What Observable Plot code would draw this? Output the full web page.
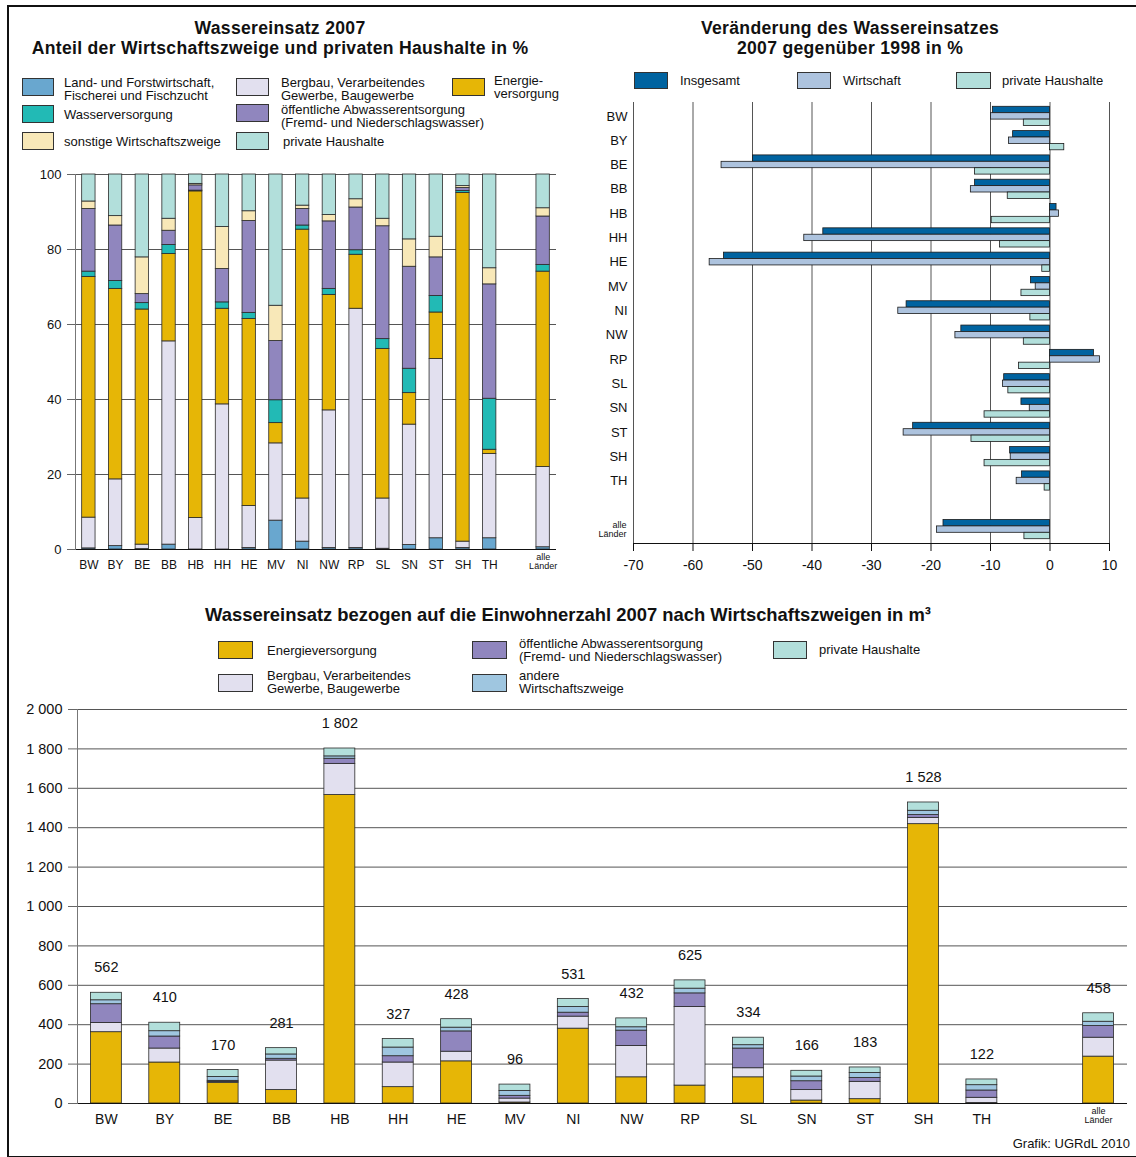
<!DOCTYPE html>
<html><head><meta charset="utf-8">
<script src="https://cdn.jsdelivr.net/npm/d3@7"></script>
<script src="https://cdn.jsdelivr.net/npm/@observablehq/plot@0.6"></script>
<style>
body{margin:0;background:#fff;font-family:"Liberation Sans",Arial,sans-serif;color:#111}
#root{position:relative;width:1136px;height:1157px;overflow:hidden;background:#fff}
.abs{position:absolute}
.t{position:absolute;font-weight:bold;font-size:17.6px;letter-spacing:0.3px;text-align:center;line-height:19.5px;white-space:nowrap}
.sw{position:absolute;border:1px solid #333;box-sizing:border-box}
.lt{position:absolute;font-size:13px;line-height:13px;white-space:nowrap}
#frame{position:absolute;left:7px;top:5px;width:1140px;height:1149px;border-left:2px solid #111;border-top:2px solid #111;border-bottom:2px solid #111}
</style></head><body><div id="root">
<div id="frame"></div>
<div class="t" style="left:20px;width:520px;top:19px">Wassereinsatz 2007<br>Anteil der Wirtschaftszweige und privaten Haushalte in %</div>
<div class="t" style="left:600px;width:500px;top:19px">Veränderung des Wassereinsatzes<br>2007 gegenüber 1998 in %</div>
<div class="t" style="left:100px;width:936px;top:605px;font-size:18.4px;letter-spacing:0">Wassereinsatz bezogen auf die Einwohnerzahl 2007 nach Wirtschaftszweigen in m³</div>

<div class="sw" style="left:22px;top:78px;width:32px;height:18px;background:#69a7cf"></div>
<div class="lt" style="left:64px;top:76px">Land- und Forstwirtschaft,<br>Fischerei und Fischzucht</div>
<div class="sw" style="left:22px;top:105px;width:32px;height:18px;background:#22bab5"></div>
<div class="lt" style="left:64px;top:108px">Wasserversorgung</div>
<div class="sw" style="left:22px;top:132px;width:32px;height:18px;background:#f8e8b8"></div>
<div class="lt" style="left:64px;top:135px">sonstige Wirtschaftszweige</div>
<div class="sw" style="left:236px;top:78px;width:33px;height:18px;background:#e2e0ef"></div>
<div class="lt" style="left:281px;top:76px">Bergbau, Verarbeitendes<br>Gewerbe, Baugewerbe</div>
<div class="sw" style="left:236px;top:104px;width:33px;height:18px;background:#9086be"></div>
<div class="lt" style="left:281px;top:103px">öffentliche Abwasserentsorgung<br>(Fremd- und Niederschlagswasser)</div>
<div class="sw" style="left:236px;top:132px;width:33px;height:18px;background:#b2dfdb"></div>
<div class="lt" style="left:283px;top:135px">private Haushalte</div>
<div class="sw" style="left:452px;top:78px;width:33px;height:18px;background:#e6b606"></div>
<div class="lt" style="left:494px;top:74px">Energie-<br>versorgung</div>

<div class="sw" style="left:634px;top:72px;width:34px;height:17px;background:#0063a0"></div>
<div class="lt" style="left:680px;top:74px">Insgesamt</div>
<div class="sw" style="left:797px;top:72px;width:34px;height:17px;background:#adc3de"></div>
<div class="lt" style="left:843px;top:74px">Wirtschaft</div>
<div class="sw" style="left:956px;top:72px;width:35px;height:17px;background:#b2dfdb"></div>
<div class="lt" style="left:1002px;top:74px">private Haushalte</div>

<div class="sw" style="left:218px;top:641px;width:35px;height:18px;background:#e6b606"></div>
<div class="lt" style="left:267px;top:644px">Energieversorgung</div>
<div class="sw" style="left:472px;top:641px;width:35px;height:18px;background:#9086be"></div>
<div class="lt" style="left:519px;top:637px">öffentliche Abwasserentsorgung<br>(Fremd- und Niederschlagswasser)</div>
<div class="sw" style="left:773px;top:641px;width:34px;height:18px;background:#b2dfdb"></div>
<div class="lt" style="left:819px;top:643px">private Haushalte</div>
<div class="sw" style="left:218px;top:674px;width:35px;height:18px;background:#e2e0ef"></div>
<div class="lt" style="left:267px;top:669px">Bergbau, Verarbeitendes<br>Gewerbe, Baugewerbe</div>
<div class="sw" style="left:472px;top:674px;width:35px;height:18px;background:#9fc6e0"></div>
<div class="lt" style="left:519px;top:669px">andere<br>Wirtschaftszweige</div>

<div class="lt" style="right:6px;top:1137px;line-height:14px">Grafik: UGRdL 2010</div>

<div id="c1" class="abs" style="left:0;top:160px"></div>
<div id="c2" class="abs" style="left:590px;top:95px"></div>
<div id="c3" class="abs" style="left:0;top:690px"></div>
</div>
<script>
// ---- categories ----
const states = ["BW","BY","BE","BB","HB","HH","HE","MV","NI","NW","RP","SL","SN","ST","SH","TH","alle"];
const slots = ["BW","BY","BE","BB","HB","HH","HE","MV","NI","NW","RP","SL","SN","ST","SH","TH","gap","alle"];
const landLabels = states.slice(0, 16);
const alleLabel = "alle\nLänder";

// ---- chart 1: Anteil in % (2007) ----
const shareLand     = [0.3,0.9,0.1,1.3,0,0,0.4,7.7,2.1,0.4,0.4,0.2,1.2,3.0,0.4,3.0,0.6];
const shareBergbau  = [8.2,17.8,1.2,54.2,8.4,38.7,11.2,20.6,11.5,36.7,63.8,13.4,32.1,47.8,1.7,22.5,21.4];
const shareEnergie  = [64.2,50.8,62.7,23.3,87.1,25.5,49.9,5.4,71.7,30.8,14.4,39.9,8.4,12.4,93.0,1.1,52.1];
const shareWasser   = [1.4,2.1,1.7,2.4,0.2,1.7,1.6,6.1,1.1,1.6,1.2,2.6,6.5,4.4,0.5,13.6,1.8];
const shareAbwasser = [16.7,14.8,2.4,3.8,1.4,8.9,24.5,15.8,4.4,18.0,11.4,30.1,27.2,10.3,0.8,30.5,12.9];
const shareSonstige = [2.0,2.5,9.8,3.2,0.4,11.2,2.6,9.4,0.9,1.7,2.2,2.0,7.3,5.5,0.5,4.3,2.2];
const sharePrivat   = [7.2,11.1,22.1,11.8,2.5,14.0,9.8,35.0,8.3,10.8,6.6,11.8,17.3,16.6,3.1,25.0,9.0];
const shareKeys   = ["land","bergbau","energie","wasser","abwasser","sonstige","privat"];
const shareColors = ["#69a7cf","#e2e0ef","#e6b606","#22bab5","#9086be","#f8e8b8","#b2dfdb"];
const shareTicks  = [0,20,40,60,80,100];

// ---- chart 2: Veränderung 2007 gegenüber 1998 in % ----
const changeInsgesamt  = [-9.6,-6.2,-49.9,-12.6,1.1,-38.1,-54.8,-3.2,-24.1,-14.9,7.4,-7.7,-4.8,-23.0,-6.7,-4.7,-17.9];
const changeWirtschaft = [-9.9,-6.9,-55.2,-13.3,1.5,-41.3,-57.2,-2.4,-25.5,-15.9,8.4,-7.9,-3.4,-24.6,-6.6,-5.6,-19.0];
const changePrivat     = [-4.4,2.4,-12.6,-7.1,-9.8,-8.4,-1.3,-4.8,-3.3,-4.4,-5.2,-7.0,-11.0,-13.2,-11.0,-0.9,-4.3];
const changeTicks = [-70,-60,-50,-40,-30,-20,-10,0,10];

// ---- chart 3: m³ je Einwohner 2007 ----
const pcEnergie  = [362,208,105,68,1566,83,214,5,380,133,91,133,15,22,1418,3,238];
const pcBergbau  = [47,71,5,150,158,125,49,20,61,159,399,46,53,88,32,26,96];
const pcAbwasser = [95,61,5,9,26,32,103,14,20,78,69,100,45,20,14,37,59];
const pcAndere   = [20,27,20,22,12,44,19,25,29,17,24,17,24,25,22,27,22];
const pcPrivat   = [38,43,35,32,40,43,43,32,41,45,42,38,29,28,42,29,43];
const pcTotals   = [562,410,170,281,1802,327,428,96,531,432,625,334,166,183,1528,122,458];
const pcKeys   = ["energie","bergbau","abwasser","andere","privat"];
const pcColors = ["#e6b606","#e2e0ef","#9086be","#9fc6e0","#b2dfdb"];
const pcTicks  = [0,200,400,600,800,1000,1200,1400,1600,1800,2000];

const font = "'Liberation Sans', Arial, sans-serif";
const tidy = (keys, arrays) => keys.flatMap((k, j) => states.map((s, i) => ({state: s, cat: k, value: arrays[j][i]})));
const fmt = d => d3.format(",")(d).replace(/,/g, " ");

// chart 1
const shareData = tidy(shareKeys, [shareLand, shareBergbau, shareEnergie, shareWasser, shareAbwasser, shareSonstige, sharePrivat]);
const p1 = Plot.plot({
  width: 580, height: 420, marginLeft: 75, marginRight: 24, marginTop: 14, marginBottom: 31,
  style: {fontFamily: font, fontSize: "13px", color: "#111", background: "transparent", overflow: "visible"},
  x: {domain: slots, paddingInner: 0.5, paddingOuter: 0.25, round: false, label: null},
  y: {domain: [0, 100], label: null},
  color: {domain: shareKeys, range: shareColors},
  marks: [
    Plot.ruleY(shareTicks.filter(d => d > 0), {stroke: "#555", strokeWidth: 1}),
    Plot.barY(shareData, {x: "state", y: "value", fill: "cat", stroke: "#2a2a2a", strokeWidth: 0.8}),
    Plot.ruleY([0], {stroke: "#111"}),
    Plot.frame({anchor: "left", stroke: "#777"}),
    Plot.axisY(shareTicks, {tickSize: 8, tickPadding: 6, fontSize: 13, stroke: "#666", label: null}),
    Plot.axisX(landLabels, {tickSize: 0, tickPadding: 11, fontSize: 12, label: null}),
    Plot.axisX(["alle"], {tickSize: 0, tickPadding: 4, fontSize: 9, lineHeight: 1, tickFormat: () => alleLabel, label: null})
  ]
});
document.getElementById("c1").append(p1);

// chart 2
const chg = (arr) => states.map((s, i) => ({state: s, value: arr[i]}));
const p2 = Plot.plot({
  width: 546, height: 490, marginLeft: 43, marginRight: 27, marginTop: 7, marginBottom: 42,
  style: {fontFamily: font, fontSize: "13px", color: "#111", background: "transparent", overflow: "visible"},
  x: {domain: [-70, 10], label: null},
  y: {domain: slots, paddingInner: 0.737, paddingOuter: 0.44, round: false, label: null},
  marks: [
    Plot.ruleX(changeTicks, {stroke: "#555", strokeWidth: 1}),
    Plot.barX(chg(changeInsgesamt), {y: "state", x: "value", fill: "#0063a0", stroke: "#1a1a1a", strokeWidth: 0.8, dy: -6.4}),
    Plot.barX(chg(changeWirtschaft), {y: "state", x: "value", fill: "#adc3de", stroke: "#1a1a1a", strokeWidth: 0.8}),
    Plot.barX(chg(changePrivat), {y: "state", x: "value", fill: "#b2dfdb", stroke: "#1a1a1a", strokeWidth: 0.8, dy: 6.4}),
    Plot.frame({anchor: "bottom", stroke: "#111"}),
    Plot.axisX(changeTicks, {tickSize: 8, tickPadding: 9, fontSize: 14, tickFormat: d => String(d), label: null}),
    Plot.axisY(landLabels, {tickSize: 0, tickPadding: 6, fontSize: 13, label: null}),
    Plot.axisY(["alle"], {tickSize: 0, tickPadding: 7, fontSize: 9, lineHeight: 1, tickFormat: () => alleLabel, label: null})
  ]
});
document.getElementById("c2").append(p2);

// chart 3
const pcData = tidy(pcKeys, [pcEnergie, pcBergbau, pcAbwasser, pcAndere, pcPrivat]);
const totalsData = states.map((s, i) => ({state: s, total: pcTotals[i]}));
const p3 = Plot.plot({
  width: 1136, height: 445, marginLeft: 77, marginRight: 9, marginTop: 19, marginBottom: 32,
  style: {fontFamily: font, fontSize: "14px", color: "#111", background: "transparent", overflow: "visible"},
  x: {domain: slots, paddingInner: 0.47, paddingOuter: 0.23, round: false, label: null},
  y: {domain: [0, 2000], label: null},
  color: {domain: pcKeys, range: pcColors},
  marks: [
    Plot.ruleY(pcTicks.filter(d => d > 0), {stroke: "#555", strokeWidth: 1}),
    Plot.barY(pcData, {x: "state", y: "value", fill: "cat", stroke: "#2a2a2a", strokeWidth: 0.8}),
    Plot.ruleY([0], {stroke: "#111"}),
    Plot.frame({anchor: "left", stroke: "#777"}),
    Plot.text(totalsData, {x: "state", y: "total", text: d => fmt(d.total), dy: -25, fontSize: 14.5, fill: "#111"}),
    Plot.axisY(pcTicks, {tickSize: 9, tickPadding: 6, fontSize: 14.5, tickFormat: fmt, stroke: "#666", label: null}),
    Plot.axisX(landLabels, {tickSize: 0, tickPadding: 11, fontSize: 14, label: null}),
    Plot.axisX(["alle"], {tickSize: 0, tickPadding: 4, fontSize: 9, lineHeight: 1, tickFormat: () => alleLabel, label: null})
  ]
});
document.getElementById("c3").append(p3);
</script>
</body></html>
